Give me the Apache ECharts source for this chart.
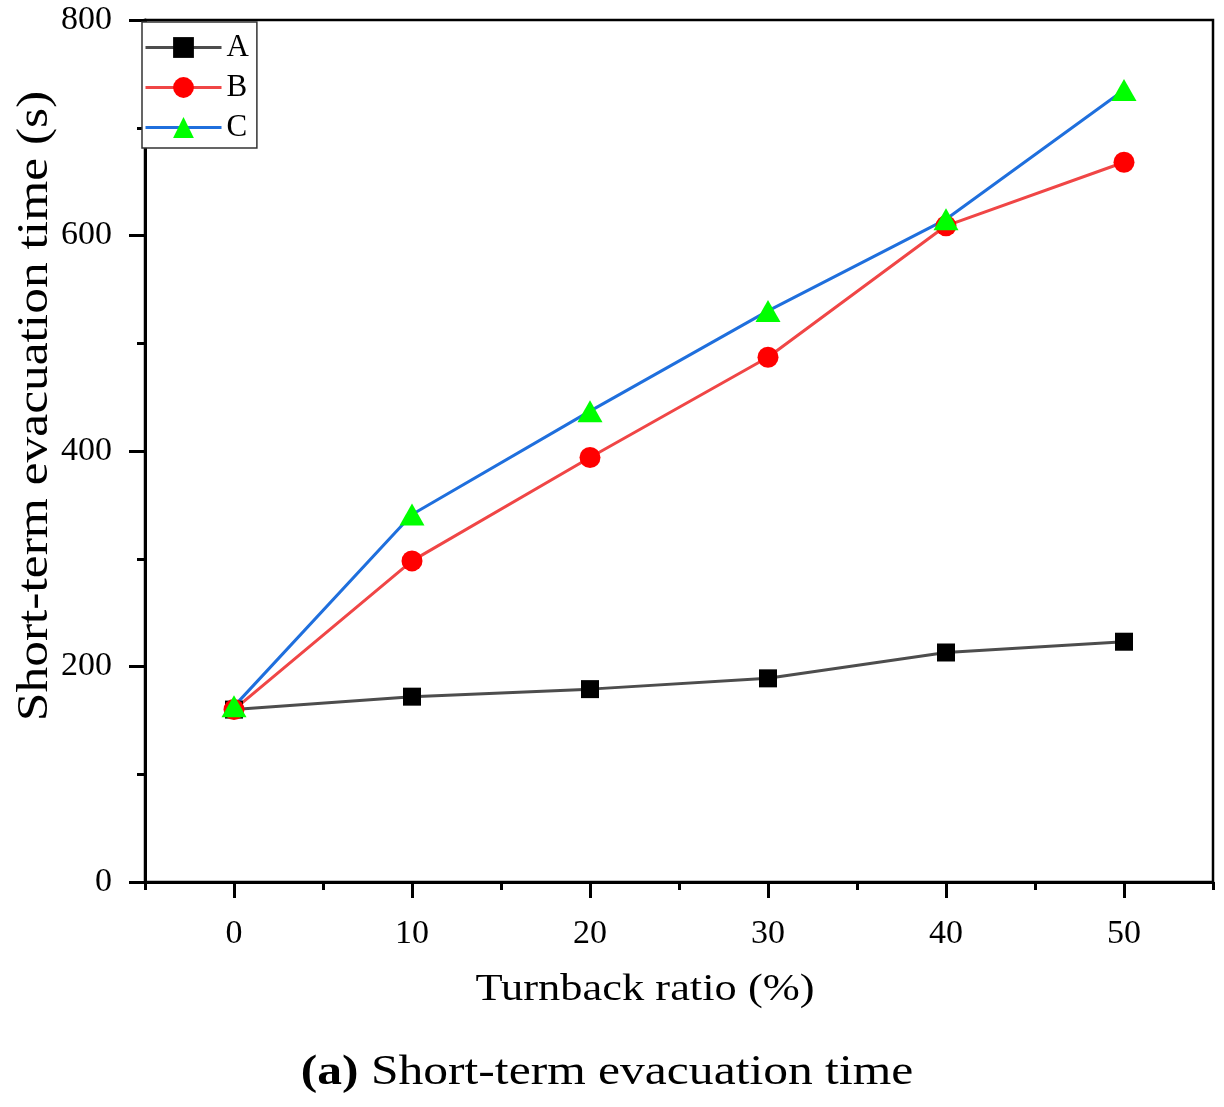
<!DOCTYPE html>
<html>
<head>
<meta charset="utf-8">
<script src="https://cdn.jsdelivr.net/npm/echarts@6/dist/echarts.min.js"></script>
<style>
  html, body { margin: 0; padding: 0; background: #fff; }
  #chart { width: 1224px; height: 1107px; }
</style>
</head>
<body>
<div id="chart"></div>
<script>
// turnback ratio (%) on x
const ratios = [0, 10, 20, 30, 40, 50];
// short-term evacuation time (s)
const seriesA = [160, 172, 179, 189, 213, 223];
const seriesB = [160, 298, 394, 487, 609, 668];
const seriesC = [163, 341, 437, 530, 615, 735];
const majorXTicks = [0, 10, 20, 30, 40, 50];
const minorXTicks = [-5, 5, 15, 25, 35, 45, 55];

const serif = "Liberation Serif";
const chart = echarts.init(document.getElementById("chart"));

const pairs = (ys) => ratios.map((x, i) => [x, ys[i]]);

chart.setOption({
  backgroundColor: "#fff",
  animation: false,
  grid: {
    left: 145, top: 20, right: 11, bottom: 225,
    show: true, borderColor: "#000", borderWidth: 2.5,
  },
  legend: {
    orient: "vertical",
    left: 142, top: 22,
    padding: [10, 8, 5, 2],
    itemWidth: 76, itemHeight: 26, itemGap: 9,
    backgroundColor: "#fff",
    borderColor: "#333", borderWidth: 1.5,
    lineStyle: { width: 3 },
    textStyle: { fontFamily: serif, fontSize: 31, color: "#000", padding: [0, 0, 0, 0] },
    data: ["A", "B", "C"],
  },
  xAxis: [
    {
      type: "value", min: -5, max: 55,
      axisLine: { onZero: false, lineStyle: { color: "#000", width: 3 } },
      axisTick: { show: true, customValues: majorXTicks, length: 16, lineStyle: { color: "#000", width: 3 } },
      axisLabel: { customValues: majorXTicks, margin: 35, fontFamily: serif, fontSize: 34, color: "#000" },
      splitLine: { show: false },
    },
    {
      type: "value", min: -5, max: 55, position: "bottom",
      axisLine: { show: false, onZero: false },
      axisTick: { show: true, customValues: minorXTicks, length: 8, lineStyle: { color: "#000", width: 3 } },
      axisLabel: { show: false },
      splitLine: { show: false },
    },
  ],
  yAxis: {
    type: "value", min: 0, max: 800, interval: 200,
    axisLine: { show: true, onZero: false, lineStyle: { color: "#000", width: 3 } },
    axisTick: { show: true, length: 16, lineStyle: { color: "#000", width: 3 } },
    minorTick: { show: true, splitNumber: 2, length: 8, lineStyle: { color: "#000", width: 3 } },
    axisLabel: { margin: 33, fontFamily: serif, fontSize: 34, color: "#000" },
    splitLine: { show: false },
  },
  graphic: [
    {
      type: "text", x: 35, y: 406, rotation: Math.PI / 2, scaleX: 1.17,
      style: {
        text: "Short-term evacuation time (s)", fontFamily: serif, fontSize: 44,
        fill: "#000", align: "center", verticalAlign: "middle",
      },
    },
    {
      type: "text", x: 645, y: 990, scaleX: 1.17,
      style: {
        text: "Turnback ratio (%)", fontFamily: serif, fontSize: 38,
        fill: "#000", align: "center", verticalAlign: "middle",
      },
    },
    {
      type: "text", x: 607, y: 1073, scaleX: 1.18,
      style: {
        text: "{b|(a)} Short-term evacuation time",
        fontFamily: serif, fontSize: 42, fill: "#000",
        align: "center", verticalAlign: "middle",
        rich: { b: { fontFamily: serif, fontSize: 42, fontWeight: "bold", fill: "#000" } },
      },
    },
  ],
  series: [
    {
      name: "A", type: "line", data: pairs(seriesA),
      symbol: "rect", symbolSize: 18,
      lineStyle: { color: "#4d4d4d", width: 3 },
      itemStyle: { color: "#000" },
    },
    {
      name: "B", type: "line", data: pairs(seriesB),
      symbol: "circle", symbolSize: 21,
      lineStyle: { color: "#f04646", width: 3 },
      itemStyle: { color: "#ff0000" },
    },
    {
      name: "C", type: "line", data: pairs(seriesC),
      symbol: "triangle", symbolSize: [25, 22],
      lineStyle: { color: "#1f6fdd", width: 3 },
      itemStyle: { color: "#00ff00" },
    },
  ],
});
</script>
</body>
</html>
